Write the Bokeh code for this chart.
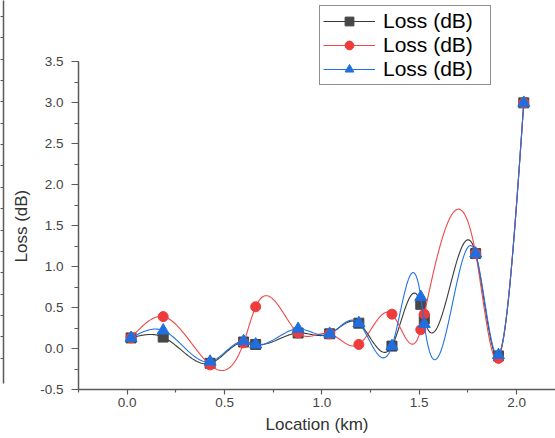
import numpy as np
from bokeh.plotting import figure
from bokeh.models import (Legend, LegendItem, SingleIntervalTicker, FixedTicker,
                          PrintfTickFormatter, Range1d, Title, LinearAxis)
from bokeh.embed import file_html
from bokeh.resources import INLINE

# ---- data ----
location_km = [0.02, 0.185, 0.426, 0.598, 0.66, 0.878, 1.04, 1.19, 1.36, 1.508, 1.526, 1.79, 1.907, 2.037]
loss_black = [0.13, 0.14, -0.18, 0.08, 0.05, 0.19, 0.18, 0.31, 0.03, 0.54, 0.36, 1.16, -0.09, 3.0]
loss_red = [0.13, 0.39, -0.20, 0.07, 0.51, 0.19, 0.18, 0.05, 0.42, 0.23, 0.42, 1.16, -0.12, 3.0]
loss_blue = [0.13, 0.22, -0.16, 0.09, 0.05, 0.24, 0.18, 0.31, 0.03, 0.63, 0.30, 1.16, -0.08, 3.0]
series_label = "Loss (dB)"
x_ticks = [0.0, 0.5, 1.0, 1.5, 2.0]


def spline_curve(x, y, per_seg=40):
    """Natural cubic spline connection line through the data points."""
    x = np.asarray(x, float)
    y = np.asarray(y, float)
    n = len(x)
    h = np.diff(x)
    A = np.zeros((n, n))
    r = np.zeros(n)
    A[0, 0] = 1.0
    A[-1, -1] = 1.0
    for i in range(1, n - 1):
        A[i, i - 1] = h[i - 1]
        A[i, i] = 2 * (h[i - 1] + h[i])
        A[i, i + 1] = h[i]
        r[i] = 3 * ((y[i + 1] - y[i]) / h[i] - (y[i] - y[i - 1]) / h[i - 1])
    c = np.linalg.solve(A, r)
    xs, ys = [], []
    for i in range(n - 1):
        b = (y[i + 1] - y[i]) / h[i] - h[i] * (2 * c[i] + c[i + 1]) / 3
        d = (c[i + 1] - c[i]) / (3 * h[i])
        t = np.linspace(0, h[i], per_seg, endpoint=(i == n - 2))
        xs.extend(x[i] + t)
        ys.extend(y[i] + b * t + c[i] * t ** 2 + d * t ** 3)
    return xs, ys


p = figure(width=555, height=438, output_backend="svg", toolbar_location=None,
           x_range=Range1d(-0.25, 2.2), y_range=Range1d(-0.5, 4.25),
           min_border_left=77, min_border_right=0, min_border_top=0, min_border_bottom=49)
p.outline_line_color = None
p.xgrid.visible = False
p.ygrid.visible = False
p.background_fill_color = "white"

FONT = "Liberation Sans"
AX = "#5a5a5a"

# axes
p.xaxis.ticker = FixedTicker(ticks=x_ticks, minor_ticks=[-0.25, 0.25, 0.75, 1.25, 1.75])
p.yaxis.ticker = SingleIntervalTicker(interval=0.5, num_minor_ticks=2)
p.yaxis.bounds = (-0.5, 3.5)
for ax in (p.xaxis[0], p.yaxis[0]):
    ax.formatter = PrintfTickFormatter(format="%.1f")
    ax.axis_line_color = AX
    ax.axis_line_width = 1.5
    ax.major_tick_line_color = AX
    ax.minor_tick_line_color = AX
    ax.major_tick_line_width = 1.2
    ax.minor_tick_line_width = 1.2
    ax.major_tick_in = 0
    ax.minor_tick_in = 0
    ax.major_label_text_font = FONT
    ax.major_label_text_font_size = "13.5px"
    ax.major_label_text_color = "#444444"
    ax.axis_label_text_font = FONT
    ax.axis_label_text_font_style = "normal"
    ax.axis_label_text_color = "#333333"

p.yaxis.major_tick_out = 7
p.yaxis.minor_tick_out = 4
p.yaxis.major_label_standoff = 8

p.xaxis.major_tick_out = 5
p.xaxis.minor_tick_out = 3
p.xaxis.major_label_standoff = 3
p.xaxis.axis_label = "Location (km)"
p.xaxis.axis_label_text_font_size = "17px"
p.xaxis.axis_label_standoff = 5

# y axis title (placed lower, as in the reference)
ytitle = Title(text=series_label, align="left", offset=127, standoff=13,
               text_font=FONT, text_font_size="17px", text_font_style="normal",
               text_color="#333333")
p.add_layout(ytitle, "left")

# neighbouring panel's cropped axis line on the far left (line + unlabeled ticks)
p.extra_y_ranges = {"edge": Range1d(0.53, 18.75)}
edge = LinearAxis(y_range_name="edge", bounds=(0.8, 18.75),
                  ticker=FixedTicker(ticks=[], minor_ticks=list(range(2, 19))))
edge.major_tick_out = 0
edge.major_tick_in = 0
edge.minor_tick_out = 3
edge.minor_tick_in = 0
edge.axis_line_color = AX
edge.axis_line_width = 1.5
edge.minor_tick_line_color = AX
edge.minor_tick_line_width = 1.2
p.add_layout(edge, "left")

# series
specs = [
    (loss_black, "#474747", "#3a3a3a", "square", 10),
    (loss_red, "#ee3b3b", "#f04848", "circle", 10),
    (loss_blue, "#1f6fe0", "#2272e2", "triangle", 12),
]
items = []
for vals, mcol, lcol, marker, size in specs:
    sx, sy = spline_curve(location_km, vals)
    lr = p.line(sx, sy, line_color=lcol, line_width=1.1)
    mr = p.scatter(location_km, vals, marker=marker, size=size,
                   fill_color=mcol, line_color=mcol)
    items.append(LegendItem(label=series_label, renderers=[lr, mr]))

legend = Legend(items=items, location=(241, 304), orientation="vertical",
                border_line_color="#222222", border_line_width=1.5,
                background_fill_color="white", background_fill_alpha=1.0,
                label_text_font=FONT, label_text_font_size="21px",
                label_text_color="#000000",
                glyph_width=52, glyph_height=22, label_height=22, label_width=104,
                spacing=0, padding=3, label_standoff=8, margin=0)
p.add_layout(legend, "center")

open("out.html", "w").write(file_html(p, INLINE))
